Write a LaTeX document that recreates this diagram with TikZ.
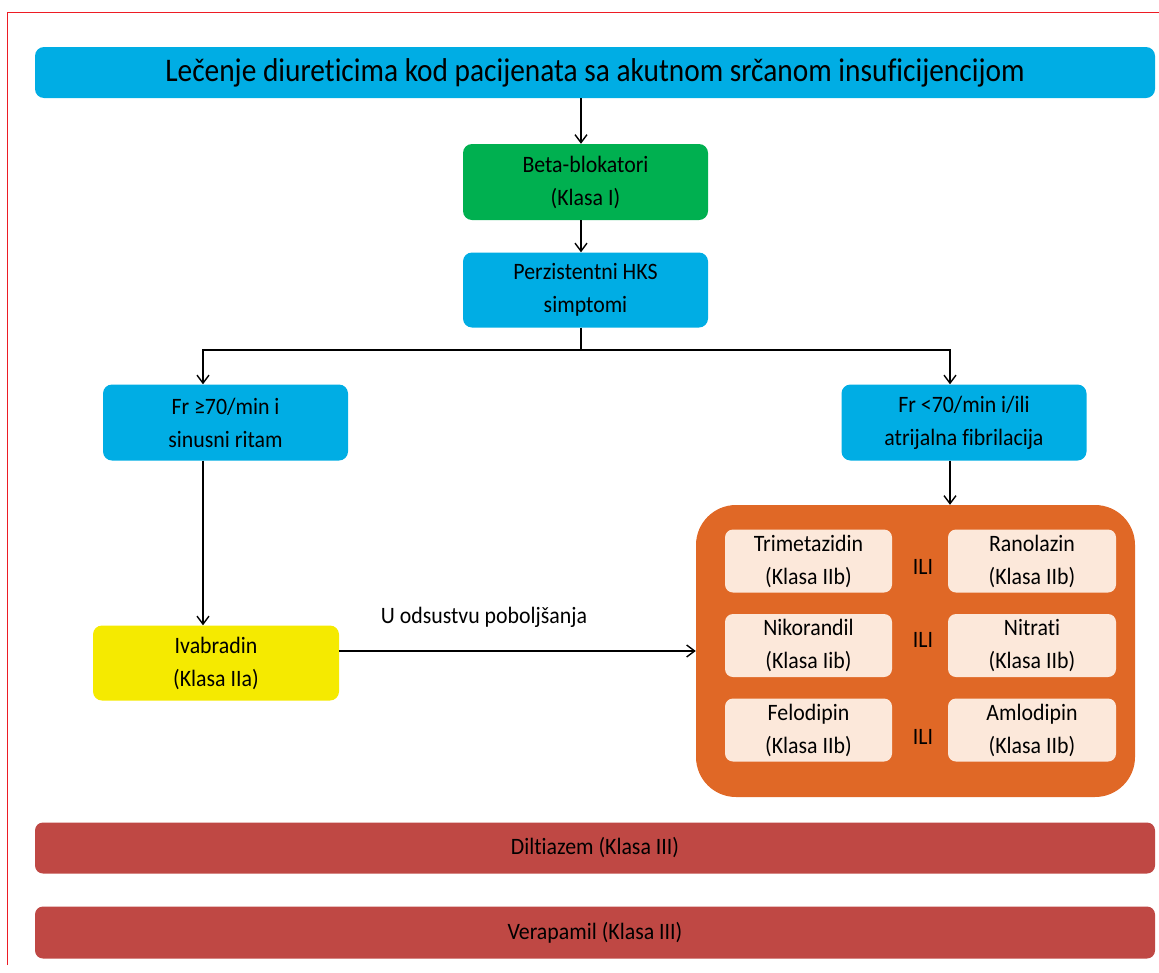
\documentclass[tikz,border=0pt]{standalone}
\usepackage{fontspec}
\setmainfont{Carlito}[Ligatures=NoCommon, FakeStretch=0.93]
\newfontfamily\titlefont{Carlito}[Ligatures=NoCommon, FakeStretch=0.89]
\usetikzlibrary{arrows.meta,calc}
\definecolor{hdrblue}{RGB}{0,173,228}
\definecolor{okgreen}{RGB}{0,176,80}
\definecolor{ivayellow}{RGB}{245,234,0}
\definecolor{grporange}{RGB}{224,104,38}
\definecolor{drugpale}{RGB}{252,232,218}
\definecolor{barred}{RGB}{191,72,68}
\definecolor{framered}{RGB}{237,28,36}
\begin{document}
\begin{tikzpicture}[x=1pt,y=-1pt,
  box/.style={rounded corners=9pt, inner sep=0pt, align=center,
    font=\fontsize{23.5}{33}\selectfont},
  flowbox/.style={box, minimum width=245pt, minimum height=76pt},
  drugbox/.style={box, fill=drugpale, rounded corners=8pt, minimum width=167pt, minimum height=63pt},
  barbox/.style={box, fill=barred, rounded corners=8pt, minimum width=1120pt, minimum height=51pt},
  ili/.style={font=\fontsize{23.5}{26}\selectfont, inner sep=0pt},
  arr/.style={-{Straight Barb[length=8pt,width=12pt]}, line width=1.4pt},
  plain/.style={line width=1.4pt},
]
\useasboundingbox (0,0) rectangle (1159,972);

% outer frame (top and left edges)
\draw[framered, line width=1pt] (7.5,965) -- (7.5,12.5) -- (1159,12.5);

% main flow
\node[box, fill=hdrblue, minimum width=1120pt, minimum height=51pt,
      font=\titlefont\fontsize{33}{38}\selectfont] (title) at (595,72.5)
  {Lečenje diureticima kod pacijenata sa akutnom srčanom insuficijencijom};
\node[flowbox, fill=okgreen] (beta) at (585.5,182) {Beta-blokatori\\(Klasa I)};
\node[flowbox, fill=hdrblue, minimum height=75pt] (perz) at (585.5,290) {Perzistentni HKS\\simptomi};
\node[flowbox, fill=hdrblue] (fr1) at (225.5,422.5) {Fr ≥70/min i\\sinusni ritam};
\node[flowbox, fill=hdrblue] (fr2) at (964,422.5) {Fr <70/min i/ili\\atrijalna fibrilacija};
\node[flowbox, fill=ivayellow, minimum width=246pt, minimum height=75pt] (ivab) at (216,663) {Ivabradin\\(Klasa IIa)};

% alternative drug group
\node[box, fill=grporange, rounded corners=40pt, minimum width=439pt, minimum height=292pt] (grp) at (915.5,651) {};
\node[drugbox] (trim) at (808.5,561) {Trimetazidin\\(Klasa IIb)};
\node[drugbox, minimum width=168pt] (rano) at (1032,561) {Ranolazin\\(Klasa IIb)};
\node[drugbox] (niko) at (808.5,645.5) {Nikorandil\\(Klasa Iib)};
\node[drugbox, minimum width=168pt] (nitr) at (1032,645.5) {Nitrati\\(Klasa IIb)};
\node[drugbox] (felo) at (808.5,730) {Felodipin\\(Klasa IIb)};
\node[drugbox, minimum width=168pt] (amlo) at (1032,730) {Amlodipin\\(Klasa IIb)};
\node[ili] (ili1) at (923,567) {ILI};
\node[ili] (ili2) at (923,640) {ILI};
\node[ili] (ili3) at (923,737) {ILI};

% class III bars
\node[barbox] (dilt) at (595,848) {Diltiazem (Klasa III)};
\node[barbox, minimum height=52pt] (vera) at (595,932.5) {Verapamil (Klasa III)};

% connector guide positions
\coordinate (cx) at (581,0);
\coordinate (lx) at (203,0);
\coordinate (rx) at (950,0);
\coordinate (bus) at (0,350);
\coordinate (ay) at (0,651);

\draw[arr] (title.south -| cx) -- (beta.north -| cx);
\draw[arr] (beta.south -| cx) -- (perz.north -| cx);
\draw[plain] (perz.south -| cx) -- (cx |- bus);
\draw[arr] (cx |- bus) -| (lx |- fr1.north);
\draw[arr] (cx |- bus) -| (rx |- fr2.north);
\draw[arr] (lx |- fr1.south) -- (lx |- ivab.north);
\draw[arr] (rx |- fr2.south) -- (rx |- grp.north);
\draw[arr] (ivab.east |- ay) -- (grp.west |- ay);
\node[font=\fontsize{23.5}{26}\selectfont, inner sep=0pt] (lbl) at (484,617) {U odsustvu poboljšanja};
\end{tikzpicture}
\end{document}
